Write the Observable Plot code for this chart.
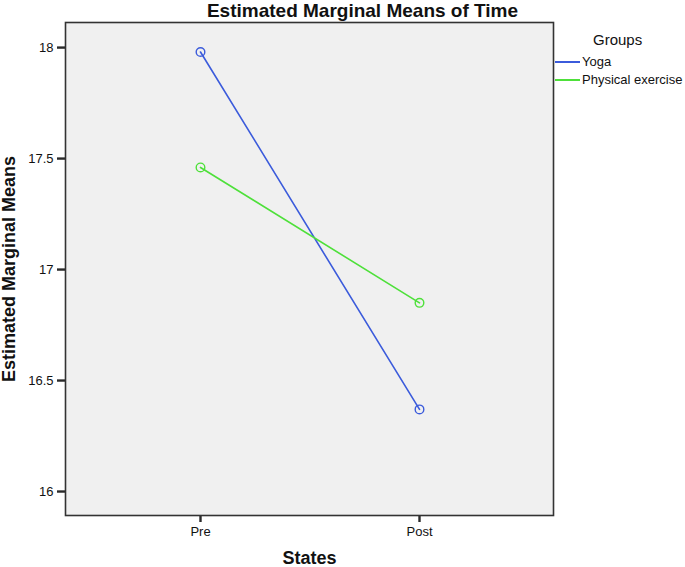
<!DOCTYPE html>
<html>
<head>
<meta charset="utf-8">
<script src="https://cdn.jsdelivr.net/npm/d3@7"></script>
<script src="https://cdn.jsdelivr.net/npm/@observablehq/plot@0.6"></script>
<style>
  html, body { margin: 0; padding: 0; background: #fff; }
  body { font-family: "Liberation Sans", Arial, sans-serif; }
  #wrap { position: relative; width: 685px; height: 567px; }
  #chart { position: absolute; left: 0; top: 0; }
  #legend { position: absolute; left: 555px; top: 30px; width: 130px; font-family: "Liberation Sans", Arial, sans-serif; color: #111; }
  #legend .ttl { position: absolute; left: 38px; top: 0; font-size: 15px; line-height: 20px; }
  #legend .row { position: absolute; left: 0; height: 16px; font-size: 13px; line-height: 16px; white-space: nowrap; }
  #legend .sw { display: inline-block; width: 25px; height: 2px; vertical-align: middle; margin-right: 2px; position: relative; top: -1px; }
</style>
</head>
<body>
<div id="wrap">
  <div id="chart"></div>
  <div id="legend"></div>
</div>
<script>
const titleText = "Estimated Marginal Means of Time";
const xLabel = "States";
const yLabel = "Estimated Marginal Means";
const legendTitle = "Groups";
const states = ["Pre", "Post"];
const groups = ["Yoga", "Physical exercise"];
const groupColors = ["#3b5bdb", "#4ee03a"];
const yogaValues = [17.98, 16.37];
const exerciseValues = [17.46, 16.85];
const yTicks = [16, 16.5, 17, 17.5, 18];

const seriesValues = [yogaValues, exerciseValues];
const data = [];
groups.forEach((g, gi) => states.forEach((s, si) => data.push({group: g, state: s, value: seriesValues[gi][si]})));

const plot = Plot.plot({
  width: 685,
  height: 567,
  marginLeft: 65,
  marginRight: 132,
  marginTop: 22,
  marginBottom: 52,
  style: {fontFamily: "'Liberation Sans', Arial, sans-serif", background: "transparent", color: "#111"},
  x: {type: "point", domain: states, padding: 0.61},
  y: {domain: [15.892, 18.113]},
  color: {domain: groups, range: groupColors},
  marks: [
    Plot.frame({fill: "#f0f0f0", stroke: "none"}),
    Plot.axisY({ticks: yTicks, tickFormat: d => String(d), tickSize: 8, tickPadding: 4, fontSize: 13, label: null, stroke: "#2a2a2a", strokeWidth: 2.4}),
    Plot.axisX({tickSize: 7, tickPadding: 4, fontSize: 13, label: null, stroke: "#2a2a2a", strokeWidth: 2.4}),
    Plot.frame({stroke: "#333", strokeWidth: 1.6}),
    Plot.line(data, {x: "state", y: "value", z: "group", stroke: "group", strokeWidth: 1.6}),
    Plot.dot(data, {x: "state", y: "value", stroke: "group", r: 4.3, strokeWidth: 1.4, fill: "none"}),
    Plot.text([titleText], {frameAnchor: "top", dx: 53, dy: -19, fontSize: 19, fontWeight: "bold", fill: "#111"}),
    Plot.text([xLabel], {frameAnchor: "bottom", dy: 48, fontSize: 18, fontWeight: "bold", fill: "#111"}),
    Plot.text([yLabel], {frameAnchor: "left", textAnchor: "middle", dx: -56, rotate: -90, fontSize: 18, fontWeight: "bold", fill: "#111"})
  ]
});
document.getElementById("chart").appendChild(plot);

const legend = document.getElementById("legend");
const t = document.createElement("div");
t.className = "ttl";
t.textContent = legendTitle;
legend.appendChild(t);
groups.forEach((g, i) => {
  const row = document.createElement("div");
  row.className = "row";
  row.style.top = (24 + i * 18) + "px";
  const sw = document.createElement("span");
  sw.className = "sw";
  sw.style.background = groupColors[i];
  row.appendChild(sw);
  row.appendChild(document.createTextNode(g));
  legend.appendChild(row);
});
</script>
</body>
</html>
